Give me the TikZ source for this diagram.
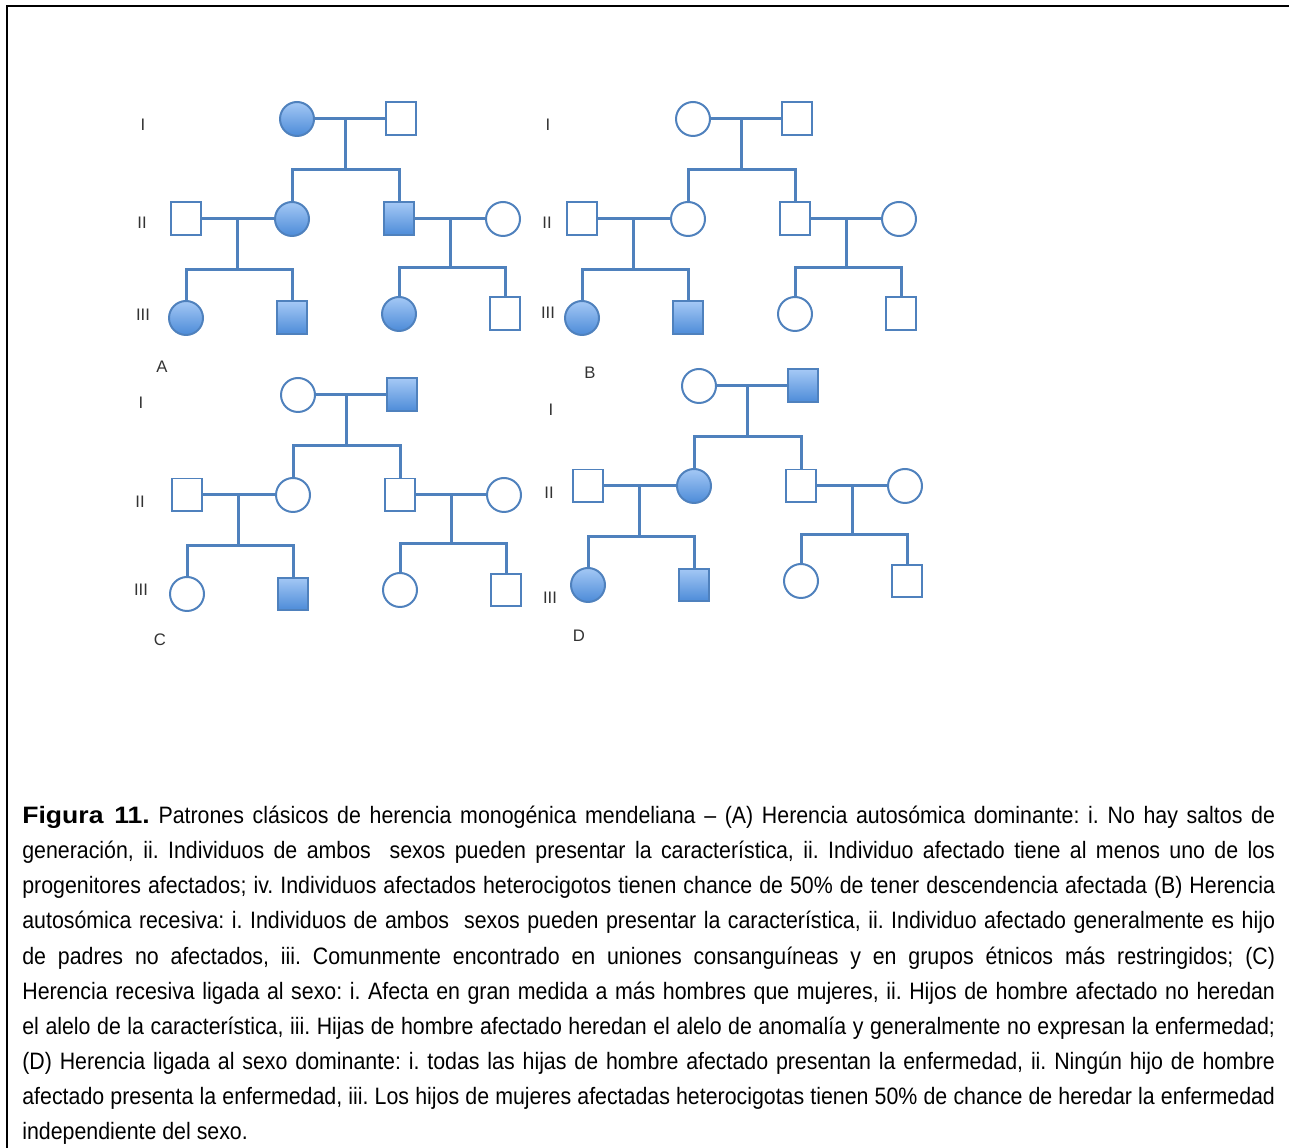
\documentclass[tikz,border=0pt]{standalone}
\usepackage{fontspec}
\newfontfamily\capfont{Liberation Sans}[FakeStretch=0.9, BoldFeatures={FakeStretch=1.12}]
\newfontfamily\lblfont{Liberation Sans}
\definecolor{pedline}{RGB}{79,129,189}
\definecolor{pedtop}{RGB}{164,200,245}
\definecolor{pedbot}{RGB}{76,139,216}
\tikzset{
	ln/.style={draw=pedline, line width=0.06cm},
	fem/.style={circle, draw=pedline, line width=0.04cm, minimum size=0.68cm, inner sep=0pt},
	mal/.style={rectangle, draw=pedline, line width=0.04cm, minimum width=0.6cm, minimum height=0.66cm, inner sep=0pt},
	af/.style={top color=pedtop, bottom color=pedbot},
	un/.style={fill=white},
	gen/.style={font=\lblfont\fontsize{9.5}{10}\selectfont, text=black!80, inner sep=0pt},
}

\begin{document}
\begin{tikzpicture}[x=0.02cm, y=-0.02cm]
	\useasboundingbox (0,0) rectangle (1289,1148);
	\draw[line width=0.04cm] (7,1148) -- (7,6) -- (1289,6);
	% the four pedigrees A, B, C, D
	\foreach \p/\x/\y/\fa/\fb/\fc/\fd/\fe/\ff/\fg/\fh/\fk/\fl in {
		A/297/119/af/un/un/af/af/un/af/af/af/un,
		B/693/119/un/un/un/un/un/un/af/af/un/un,
		C/298/395/un/af/un/un/un/un/un/af/un/un,
		D/699/386/un/af/un/af/un/un/af/af/un/un}
	{
		\begin{scope}[shift={(\x,\y)}]
			\node[fem,\fa] (\p I1) at (0,0) {};
			\node[mal,\fb] (\p I2) at (104,0) {};
			\node[mal,\fc] (\p II1) at (-111,100) {};
			\node[fem,\fd] (\p II2) at (-5,100) {};
			\node[mal,\fe] (\p II3) at (102,100) {};
			\node[fem,\ff] (\p II4) at (206,100) {};
			\node[fem,\fg] (\p III1) at (-111,199) {};
			\node[mal,\fh] (\p III2) at (-5,199) {};
			\node[fem,\fk] (\p III3) at (102,195) {};
			\node[mal,\fl] (\p III4) at (208,195) {};
			\coordinate (\p s1) at (48,51);
			\coordinate (\p s2) at (-60,151);
			\coordinate (\p s3) at (153,149);
			\draw[ln] (\p I1) -- (\p I2);
			\draw[ln] (\p II1) -- (\p II2);
			\draw[ln] (\p II3) -- (\p II4);
			\draw[ln] (\p s1 |- \p I1) -- (\p s1);
			\draw[ln] (\p s2 |- \p II1) -- (\p s2);
			\draw[ln] (\p s3 |- \p II3) -- (\p s3);
			\draw[ln] (\p II2) |- (\p s1) -| (\p II3);
			\draw[ln] (\p III1) |- (\p s2) -| (\p III2);
			\draw[ln] (\p III3) |- (\p s3) -| (\p III4);
		\end{scope}
	}
	% generation numbers and panel letters
	\foreach \t/\lx/\ly [count=\k] in {I/143/125, II/142/223, III/143/315, I/548/125, II/547/223, III/548/313,
		I/141/403, II/140/502, III/141/590, I/551/410, II/549/493, III/550/598}
		\node[gen] (g\k) at (\lx,\ly) {\t};
	\foreach \t/\lx/\ly in {A/162/367, B/590/373, C/160/640, D/579/636}
		\node[gen] (lbl\t) at (\lx,\ly) {\t};
	% caption
	\node[anchor=north west, inner sep=0pt, text width=25.06cm, align=justify,
		font=\capfont\fontsize{13.5}{19.95}\selectfont\frenchspacing] (cap) at (22,806) {%
		\textbf{Figura 11.} Patrones clásicos de herencia monogénica mendeliana – (A) Herencia autosómica dominante: i. No hay saltos de\linebreak
		generación, ii. Individuos de ambos\ \ sexos pueden presentar la característica, ii. Individuo afectado tiene al menos uno de los\linebreak
		progenitores afectados; iv. Individuos afectados heterocigotos tienen chance de 50\% de tener descendencia afectada (B) Herencia\linebreak
		autosómica recesiva: i. Individuos de ambos\ \ sexos pueden presentar la característica, ii. Individuo afectado generalmente es hijo\linebreak
		de padres no afectados, iii. Comunmente encontrado en uniones consanguíneas y en grupos étnicos más restringidos; (C)\linebreak
		Herencia recesiva ligada al sexo: i. Afecta en gran medida a más hombres que mujeres, ii. Hijos de hombre afectado no heredan\linebreak
		el alelo de la característica, iii. Hijas de hombre afectado heredan el alelo de anomalía y generalmente no expresan la enfermedad;\linebreak
		(D) Herencia ligada al sexo dominante: i. todas las hijas de hombre afectado presentan la enfermedad, ii. Ningún hijo de hombre\linebreak
		afectado presenta la enfermedad, iii. Los hijos de mujeres afectadas heterocigotas tienen 50\% de chance de heredar la enfermedad\linebreak
		independiente del sexo.};
\end{tikzpicture}
\end{document}
